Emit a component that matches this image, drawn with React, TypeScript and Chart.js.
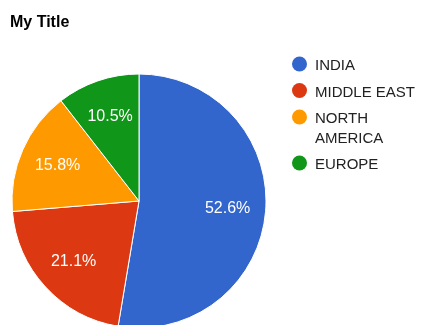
import React, { useEffect, useRef } from "react";
import { Chart, registerables } from "chart.js";

Chart.register(...registerables);

const title = "My Title";
const categories = ["INDIA", "MIDDLE EAST", "NORTH AMERICA", "EUROPE"];
const values = [10, 4, 3, 2];
const colors = ["#3366cc", "#dc3912", "#ff9900", "#109618"];

const FONT = "'Liberation Sans', Arial, sans-serif";

const overlay = {
  id: "overlay",
  afterDatasetsDraw(chart: any) {
    const ctx = chart.ctx as CanvasRenderingContext2D;
    const meta = chart.getDatasetMeta(0);
    const data = chart.data.datasets[0].data as number[];
    const total = data.reduce((a, b) => a + b, 0);
    ctx.save();
    // slice labels
    ctx.fillStyle = "#ffffff";
    ctx.font = `16px ${FONT}`;
    ctx.textAlign = "center";
    ctx.textBaseline = "middle";
    meta.data.forEach((arc: any, i: number) => {
      const p = arc.getProps(["x", "y", "startAngle", "endAngle", "outerRadius"], true);
      const mid = (p.startAngle + p.endAngle) / 2;
      const r = p.outerRadius * 0.7;
      const txt = ((data[i] / total) * 100).toFixed(1) + "%";
      ctx.fillText(txt, p.x + Math.cos(mid) * r, p.y + Math.sin(mid) * r);
    });
    // title
    ctx.fillStyle = "#000000";
    ctx.font = `bold 16px ${FONT}`;
    ctx.textAlign = "left";
    ctx.textBaseline = "alphabetic";
    ctx.fillText(title, 10, 26.5);
    // legend
    ctx.font = `15px ${FONT}`;
    const textX = 315;
    const maxW = 424 - textX - 4;
    let y = 70;
    (chart.data.labels as string[]).forEach((label, i) => {
      const words = label.split(" ");
      const lines: string[] = [];
      let cur = "";
      words.forEach((w) => {
        const test = cur ? cur + " " + w : w;
        if (ctx.measureText(test).width > maxW && cur) {
          lines.push(cur);
          cur = w;
        } else cur = test;
      });
      if (cur) lines.push(cur);
      ctx.fillStyle = colors[i];
      ctx.beginPath();
      ctx.arc(299.5, y - 6, 7.5, 0, Math.PI * 2);
      ctx.fill();
      ctx.fillStyle = "#222222";
      lines.forEach((ln, j) => {
        ctx.fillText(ln, textX, y + j * 19.5);
      });
      y += (lines.length - 1) * 19.5 + 26.5;
    });
    ctx.restore();
  },
};

export default function App() {
  const ref = useRef<HTMLCanvasElement>(null);
  useEffect(() => {
    if (!ref.current) return;
    const chart = new Chart(ref.current, {
      type: "pie",
      data: {
        labels: categories,
        datasets: [
          {
            data: values,
            backgroundColor: colors,
            borderColor: "#ffffff",
            borderWidth: 1,
          },
        ],
      },
      options: {
        responsive: false,
        animation: false,
        layout: { padding: { left: 11.5, right: 157.5, top: 73.5, bottom: 11.5 } },
        plugins: {
          legend: { display: false },
          title: { display: false },
          tooltip: { enabled: false },
        },
      },
      plugins: [overlay],
    });
    return () => chart.destroy();
  }, []);
  return (
    <div
      style={{
        position: "absolute",
        left: 0,
        top: 0,
        width: 424,
        height: 325,
        overflow: "hidden",
        background: "#ffffff",
      }}
    >
      <canvas ref={ref} width={424} height={340} style={{ display: "block" }} />
    </div>
  );
}
